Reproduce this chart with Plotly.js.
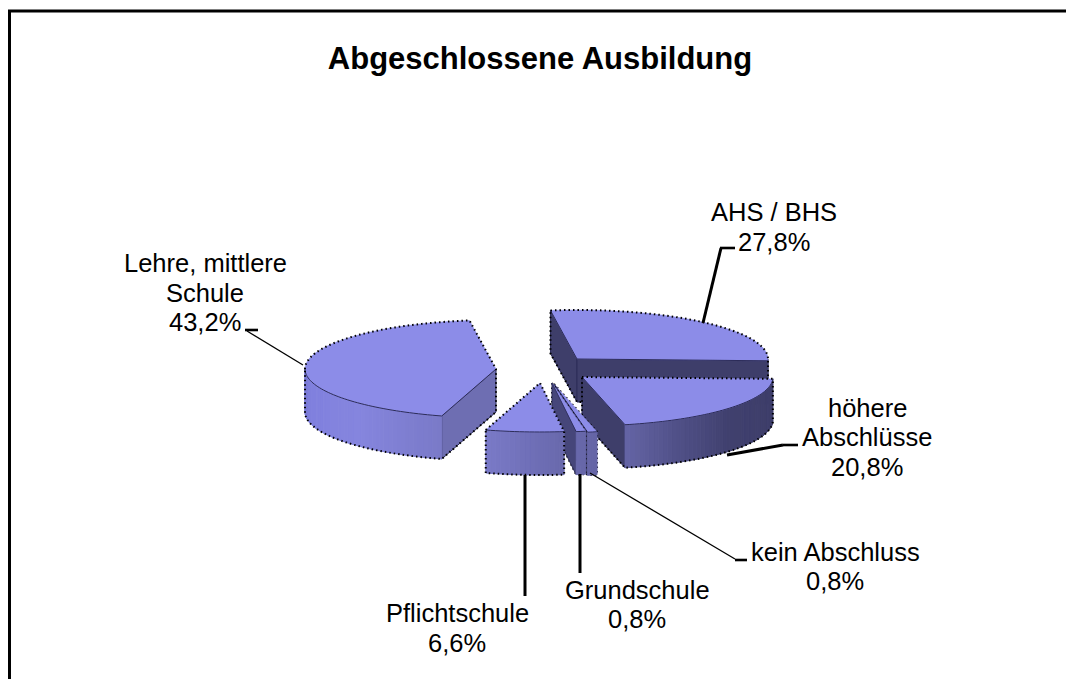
<!DOCTYPE html>
<html>
<head>
<meta charset="utf-8">
<script src="https://cdn.plot.ly/plotly-3.0.1.min.js"></script>
<style>html,body{margin:0;padding:0;background:#fff;overflow:hidden}</style>
</head>
<body>
<div id="chart" style="width:1066px;height:679px"></div>
<script>
// --- data ---
const categories = ["Lehre, mittlere<br>Schule", "AHS / BHS", "höhere<br>Abschlüsse", "kein Abschluss", "Grundschule", "Pflichtschule"];
const shares = [43.2, 27.8, 20.8, 0.8, 0.8, 6.6];

// --- projection of the tilted, exploded pie ---
const startAngle = 196.5;          // clock degrees at which the first slice begins
const radiusX = 191, radiusY = 49, depth = 43;
const sliceCenterX = [496, 577, 582, 554, 552, 540];
const sliceCenterY = [369, 359, 377, 384, 383, 383];
const sideColors = ["#6e6eb2", "#3e3e6a", "#3e3e6a", "#46467a", "#46467a", "#6e6eb2"];
const drawOrder = [1, 2, 3, 4, 5, 0];
const thinSlices = [3, 4];
const topColor = "#8c8ce8", edgeColor = "#2c2c58";

// --- labels / leaders layout ---
const labelX = [205, 774, 867, 835, 637, 457];
const labelY = [292.5, 227, 437, 566.5, 604.5, 628];
const lineGap = 29.5;
const leaders = [
  [303,365,247,331,1.3],[258,330,245,330,2.6],
  [703,323,721,248,3],[720,248,735,248,2.6],
  [727,455,783,445,3],[783,445,798,445,2.6],
  [590,473,735,559,1.3],[735,560,747,560,2.6],
  [580,474,580,573,3],
  [525,475,525,596,3]
];

// --- shading around the rim, by clock angle ---
const shadeAngles = [90, 130, 150, 167, 197, 225, 255, 275];
const shadeLevels = [[61,61,105],[64,64,110],[80,80,135],[100,100,165],[122,122,200],[133,133,222],[128,128,222],[118,118,208]];
function shade(a){
  for(let i=0;i<shadeAngles.length-1;i++){
    if(a<=shadeAngles[i+1]){
      const t=Math.max(0,(a-shadeAngles[i])/(shadeAngles[i+1]-shadeAngles[i]));
      const c=shadeLevels[i].map((v,k)=>Math.round(v+(shadeLevels[i+1][k]-v)*t));
      return `rgb(${c[0]},${c[1]},${c[2]})`;
    }
  }
  return `rgb(${shadeLevels[shadeLevels.length-1].join(",")})`;
}
const rad=d=>d*Math.PI/180;
function pt(i,a,dz){return [sliceCenterX[i]+radiusX*Math.sin(rad(a)), sliceCenterY[i]-radiusY*Math.cos(rad(a))+(dz||0)];}
function poly(pts,fill,lineColor,width,dash,closed){
  const p=closed===false?pts:pts.concat([pts[0]]);
  const t={type:"scatter",mode:"lines",x:p.map(q=>q[0]),y:p.map(q=>q[1]),hoverinfo:"skip",showlegend:false,
    line:{color:lineColor||fill,width:width===undefined?1:width,dash:dash||"solid",simplify:false}};
  if(fill){t.fill="toself";t.fillcolor=fill;}
  return t;
}
function hull(points){
  const s=points.slice().sort((p,q)=>p[0]-q[0]||p[1]-q[1]);
  const cross=(o,a,b)=>(a[0]-o[0])*(b[1]-o[1])-(a[1]-o[1])*(b[0]-o[0]);
  const lo=[],up=[];
  for(const p of s){while(lo.length>1&&cross(lo[lo.length-2],lo[lo.length-1],p)<=0)lo.pop();lo.push(p);}
  for(const p of s.slice().reverse()){while(up.length>1&&cross(up[up.length-2],up[up.length-1],p)<=0)up.pop();up.push(p);}
  return lo.slice(0,-1).concat(up.slice(0,-1));
}
// angular extent of every slice from its share
const spans=[];let cum=startAngle;
shares.forEach(v=>{const d=v/100*360;spans.push([cum,cum+d]);cum+=d;});

const traces=[];
drawOrder.forEach(i=>{
  const [a1,a2]=spans[i];
  const n=Math.max(2,Math.ceil((a2-a1)/1.5));
  const arc=[];for(let k=0;k<=n;k++)arc.push(a1+(a2-a1)*k/n);
  const c=[sliceCenterX[i],sliceCenterY[i]];
  const top=arc.map(a=>pt(i,a));
  const dn=p=>[p[0],p[1]+depth];
  const all=[c].concat(top);
  const outline=poly(hull(all.concat(all.map(dn))),null,"#000",2,"1.5px,3px");
  const thin=thinSlices.includes(i);
  // thin slices keep their jagged edge behind the faces, so it only shows outside them
  if(thin) traces.push(outline);
  // flat cut walls that face the viewer
  const nrm=a=>{const m=((a%360)+360)%360;return m>90&&m<270;};
  if(nrm(a1-90)) traces.push(poly([c,top[0],dn(top[0]),dn(c)],sideColors[i],edgeColor,1));
  if(nrm(a2+90)) traces.push(poly([c,top[n],dn(top[n]),dn(c)],sideColors[i],edgeColor,1));
  // rim wall
  for(let k=0;k<n;k++){
    const m=((arc[k]+arc[k+1])/2)%360;
    if(m<90||m>270) continue;
    traces.push(poly([top[k],top[k+1],dn(top[k+1]),dn(top[k])],shade(m)));
  }
  // top face
  traces.push(poly([c].concat(top),topColor,topColor,0.5));
  // darker inner edges of the top face
  const frontArc=top.filter((p,k)=>{const m=arc[k]%360;return m>=90&&m<=270;});
  if(frontArc.length>1) traces.push(poly(frontArc,null,edgeColor,1,"solid",false));
  if(nrm(a1-90)) traces.push(poly([c,top[0]],null,edgeColor,1,"solid",false));
  if(nrm(a2+90)) traces.push(poly([c,top[n]],null,edgeColor,1,"solid",false));
  // jagged silhouette
  if(!thin) traces.push(outline);
});

const shapes=[
  {type:"line",xref:"x",yref:"y",x0:9.5,x1:9.5,y0:11,y1:679,line:{color:"#000",width:3}},
  {type:"line",xref:"x",yref:"y",x0:8,x1:1066,y0:11,y1:11,line:{color:"#000",width:3}}
].concat(leaders.map(l=>({type:"line",xref:"x",yref:"y",x0:l[0],y0:l[1],x1:l[2],y1:l[3],line:{color:"#000",width:l[4]}})));

const annotations=[];
categories.forEach((c,i)=>{
  const lines=c.split("<br>").concat([shares[i].toFixed(1).replace(".",",")+"%"]);
  lines.forEach((t,j)=>annotations.push({
    xref:"x",yref:"y",x:labelX[i],y:labelY[i]+(j-(lines.length-1)/2)*lineGap,showarrow:false,align:"center",xanchor:"center",yanchor:"middle",
    text:t,font:{family:"Liberation Sans, Arial, sans-serif",size:25.5,color:"#000"}
  }));
});

Plotly.newPlot("chart",traces,{
  width:1066,height:679,margin:{l:0,r:0,t:0,b:0},paper_bgcolor:"#fff",plot_bgcolor:"#fff",
  title:{text:"<b>Abgeschlossene Ausbildung</b>",x:540/1066,xanchor:"center",y:1-58/679,yanchor:"middle",
    font:{family:"Liberation Sans, Arial, sans-serif",size:31,color:"#000"}},
  xaxis:{range:[0,1066],visible:false,fixedrange:true},
  yaxis:{range:[679,0],visible:false,fixedrange:true},
  shapes:shapes,annotations:annotations,showlegend:false
},{displayModeBar:false,staticPlot:true});
</script>
</body>
</html>
